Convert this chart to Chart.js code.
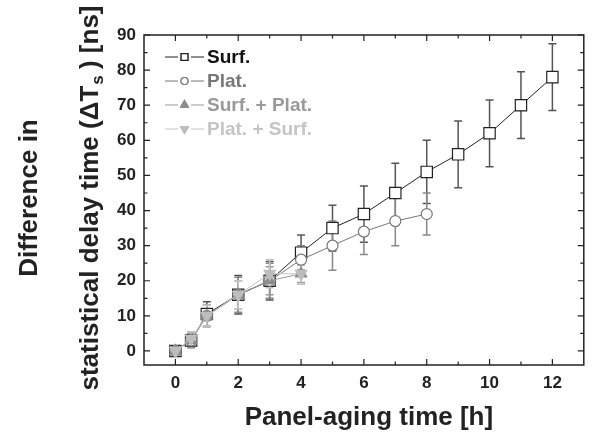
<!DOCTYPE html>
<html>
<head>
<meta charset="utf-8">
<script src="https://cdn.jsdelivr.net/npm/chart.js@4.4.0/dist/chart.umd.min.js"></script>
<style>
  html, body { margin: 0; padding: 0; background: #fff; }
  #wrap { width: 593px; height: 432px; }
</style>
</head>
<body>
<div id="wrap"><canvas id="myChart" width="593" height="432"></canvas></div>
<script>
// panel-aging time (h)
const hours = [0, 0.5, 1, 2, 3, 4, 5, 6, 7, 8, 9, 10, 11, 12];

const surf = [0, 3, 10.5, 16, 20, 28, 35, 39, 45, 51, 56, 62, 70, 78];
const surfErr = [1, 2, 3.5, 5.5, 5.5, 5, 6.5, 8, 8.5, 9, 9.5, 9.5, 9.5, 9.5];

const plat = [0, 3, 10, 16, 20, 26, 30, 34, 37, 39];
const platErr = [1, 2, 3, 5, 5, 4, 7, 6.5, 7, 6];

const surfPlat = [0, 3, 10, 16, 20, 22];
const surfPlatErr = [1, 2, 3, 4, 4, 2.5];

const platSurf = [0, 3.5, 10, 16, 22, 22];
const platSurfErr = [1, 2, 3, 4, 4, 3];

const xTicks = [0, 2, 4, 6, 8, 10, 12];
const yTicks = [0, 10, 20, 30, 40, 50, 60, 70, 80, 90];

function pts(vals) {
    return vals.map((v, i) => ({x: hours[i], y: v}));
}

const FONT = '"Liberation Sans", Arial, sans-serif';
Chart.defaults.font.family = FONT;

// error bars under the markers
const errorBars = {
    id: 'errorBars',
    beforeDatasetsDraw(chart) {
        const ctx = chart.ctx;
        const ys = chart.scales.y;
        chart.data.datasets.forEach((ds, di) => {
            const meta = chart.getDatasetMeta(di);
            ctx.save();
            ctx.strokeStyle = ds.errColor;
            ctx.lineWidth = 1.5;
            meta.data.forEach((p, i) => {
                const v = ds.data[i].y, e = ds.err[i];
                const top = ys.getPixelForValue(v + e);
                const bot = ys.getPixelForValue(v - e);
                ctx.beginPath();
                ctx.moveTo(p.x, top); ctx.lineTo(p.x, bot);
                ctx.moveTo(p.x - 4, top); ctx.lineTo(p.x + 4, top);
                ctx.moveTo(p.x - 4, bot); ctx.lineTo(p.x + 4, bot);
                ctx.stroke();
            });
            ctx.restore();
        });
    }
};

// box, inward ticks, titles, legend
const frame = {
    id: 'frame',
    afterDraw(chart) {
        const ctx = chart.ctx;
        const a = chart.chartArea;
        const xs = chart.scales.x, ys = chart.scales.y;
        ctx.save();
        ctx.strokeStyle = '#222';
        ctx.lineWidth = 1.5;
        ctx.strokeRect(a.left, a.top, a.right - a.left, a.bottom - a.top);
        ctx.lineWidth = 1.2;
        ctx.beginPath();
        for (let v = 0; v <= 12; v += 1) {
            const x = xs.getPixelForValue(v);
            const len = v % 2 === 0 ? 6 : 3.5;
            ctx.moveTo(x, a.bottom); ctx.lineTo(x, a.bottom - len);
            ctx.moveTo(x, a.top); ctx.lineTo(x, a.top + len);
        }
        for (let v = 0; v <= 90; v += 5) {
            const y = ys.getPixelForValue(v);
            const len = v % 10 === 0 ? 6 : 3.5;
            ctx.moveTo(a.left, y); ctx.lineTo(a.left + len, y);
            ctx.moveTo(a.right, y); ctx.lineTo(a.right - len, y);
        }
        ctx.stroke();

        // x title
        ctx.fillStyle = '#222';
        ctx.font = 'bold 26px ' + FONT;
        ctx.textAlign = 'center';
        ctx.textBaseline = 'alphabetic';
        ctx.fillText('Panel-aging time [h]', (a.left + a.right) / 2 + 5, 425);

        // y title, two lines
        const cy = 198;
        ctx.save();
        ctx.translate(37, cy);
        ctx.rotate(-Math.PI / 2);
        ctx.fillText('Difference in', 0, 0);
        ctx.restore();

        ctx.save();
        ctx.translate(98, cy);
        ctx.rotate(-Math.PI / 2);
        const big = 'bold 26px ' + FONT;
        const small = 'bold 17px ' + FONT;
        const p1 = 'statistical delay time (\u0394T', p2 = 's', p3 = ' ) [ns]';
        ctx.font = big;
        const w1 = ctx.measureText(p1).width, w3 = ctx.measureText(p3).width;
        ctx.font = small;
        const w2 = ctx.measureText(p2).width;
        let x0 = -(w1 + w2 + w3) / 2;
        ctx.textAlign = 'left';
        ctx.font = big;
        ctx.fillText(p1, x0, 0);
        ctx.font = small;
        ctx.fillText(p2, x0 + w1 + 1, 5);
        ctx.font = big;
        ctx.fillText(p3, x0 + w1 + w2, 0);
        ctx.restore();

        // legend
        ctx.textAlign = 'left';
        ctx.textBaseline = 'middle';
        ctx.font = 'bold 19px ' + FONT;
        chart.data.datasets.forEach((ds, i) => {
            const y = 57 + i * 24;
            const x = 165;
            ctx.strokeStyle = ds.borderColor;
            ctx.lineWidth = 1.2;
            ctx.beginPath();
            ctx.moveTo(x, y); ctx.lineTo(x + 13, y);
            ctx.moveTo(x + 26, y); ctx.lineTo(x + 39, y);
            ctx.stroke();
            Chart.helpers.drawPoint(ctx, {
                pointStyle: ds.pointStyle,
                rotation: ds.pointRotation || 0,
                radius: ds.legendRadius,
                borderWidth: 1
            }, x + 19.5, y);
            ctx.fillStyle = ds.pointBackgroundColor;
            ctx.strokeStyle = ds.pointBorderColor;
            ctx.fill();
            ctx.stroke();
            ctx.fillStyle = ds.textColor;
            ctx.fillText(ds.label, 207, y + 1);
        });
        ctx.restore();
    }
};

const ctx = document.getElementById('myChart').getContext('2d');
const myChart = new Chart(ctx, {
    type: 'line',
    data: {
        datasets: [{
            label: 'Surf.',
            data: pts(surf),
            err: surfErr,
            borderColor: '#222',
            errColor: '#555',
            textColor: '#111',
            pointStyle: 'rect',
            pointRadius: 8,
            legendRadius: 4.8,
            pointBackgroundColor: '#fff',
            pointBorderColor: '#222',
            order: 3
        }, {
            label: 'Plat.',
            data: pts(plat),
            err: platErr,
            borderColor: '#777',
            errColor: '#888',
            textColor: '#777',
            pointStyle: 'circle',
            pointRadius: 5.5,
            legendRadius: 3.5,
            pointBackgroundColor: '#fff',
            pointBorderColor: '#777',
            order: 2
        }, {
            label: 'Surf. + Plat.',
            data: pts(surfPlat),
            err: surfPlatErr,
            borderColor: '#999',
            errColor: '#999',
            textColor: '#999',
            pointStyle: 'triangle',
            pointRadius: 6.5,
            legendRadius: 4.5,
            pointBackgroundColor: '#8c8c8c',
            pointBorderColor: '#8c8c8c',
            order: 1
        }, {
            label: 'Plat. + Surf.',
            data: pts(platSurf),
            err: platSurfErr,
            borderColor: '#c4c4c4',
            errColor: '#c4c4c4',
            textColor: '#c4c4c4',
            pointStyle: 'triangle',
            pointRotation: 180,
            pointRadius: 6.5,
            legendRadius: 4.5,
            pointBackgroundColor: '#bdbdbd',
            pointBorderColor: '#bdbdbd',
            order: 0
        }]
    },
    options: {
        responsive: false,
        animation: false,
        datasets: { line: { borderWidth: 1, pointBorderWidth: 1.2, tension: 0 } },
        layout: { padding: { top: 35, right: 4, left: 0, bottom: 0 } },
        plugins: { legend: { display: false }, tooltip: { enabled: false } },
        scales: {
            x: {
                type: 'linear',
                min: -1, max: 13,
                afterBuildTicks: s => { s.ticks = xTicks.map(v => ({value: v})); },
                afterFit: s => { s.height = 67; },
                grid: { display: false, drawTicks: false },
                border: { display: false },
                ticks: { color: '#222', font: { size: 17, weight: 'bold' }, padding: 8, maxRotation: 0 }
            },
            y: {
                min: -4, max: 90,
                afterBuildTicks: s => { s.ticks = yTicks.map(v => ({value: v})); },
                afterFit: s => { s.width = 144; },
                grid: { display: false, drawTicks: false },
                border: { display: false },
                ticks: { color: '#222', font: { size: 17, weight: 'bold' }, padding: 8 }
            }
        }
    },
    plugins: [errorBars, frame]
});
</script>
</body>
</html>
